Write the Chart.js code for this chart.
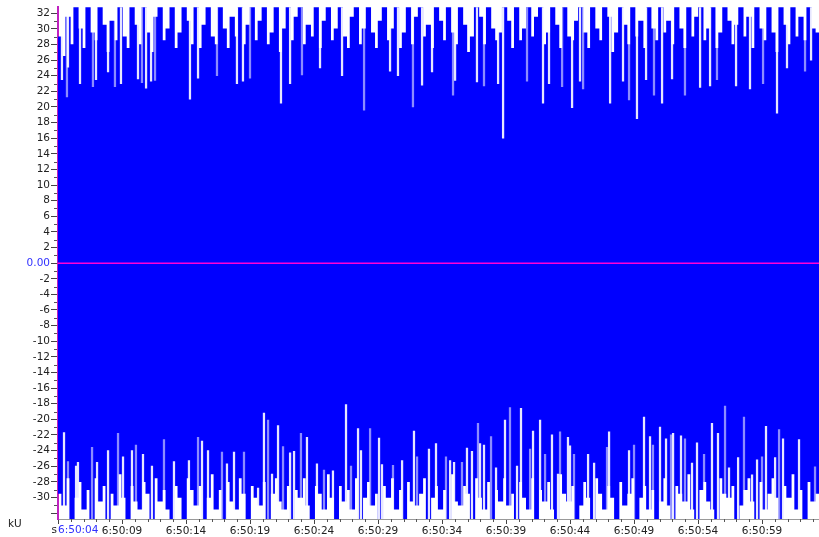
<!DOCTYPE html>
<html>
<head>
<meta charset="utf-8">
<script src="https://cdn.jsdelivr.net/npm/chart.js@4"></script>
<style>
  html, body { margin: 0; padding: 0; background: #fff; overflow: hidden; }
  #wrap { width: 819px; height: 537px; }
</style>
</head>
<body>
<div id="wrap"><canvas id="wave"></canvas></div>
<script>
// time axis in seconds after 6:50:00
const startSecond = 4;
const endSecond = 63.45;
const fullScale = 32.768; // kU

const xTickLabels = ['6:50:04','6:50:09','6:50:14','6:50:19','6:50:24','6:50:29',
  '6:50:34','6:50:39','6:50:44','6:50:49','6:50:54','6:50:59'];
const yTickValues = [32,30,28,26,24,22,20,18,16,14,12,10,8,6,4,2,0,
  -2,-4,-6,-8,-10,-12,-14,-16,-18,-20,-22,-24,-26,-28,-30,-32];

// upper / lower envelope per column
const topBody = [
  29.0,26.5,31.5,28.0,32.8,30.0,27.5,32.8,29.5,28.5,
  32.8,30.5,27.0,31.0,28.5,32.8,29.0,27.5,32.8,30.5,
  28.0,32.8,29.5,27.0,31.5,32.8,28.5,30.0,32.8,27.5,
  29.5,32.8,31.0,28.0,32.8,27.5,30.5,32.8,29.0,28.0,
  32.8,30.0,27.5,31.5,29.0,32.8,28.0,30.5,32.8,28.5,
  31.0,32.8,28.0,29.5,32.8,27.0,30.0,32.8,28.5,31.5,
  32.8,28.0,30.5,29.0,32.8,27.5,31.0,32.8,28.5,30.0,
  32.8,29.0,27.5,31.5,32.8,28.0,30.0,32.8,29.5,27.5,
  31.0,32.8,28.5,30.0,32.8,27.5,29.5,32.8,28.0,31.5,
  32.8,29.0,30.5,27.5,32.8,31.0,28.5,32.8,29.5,28.0,
  32.8,30.5,27.0,29.0,32.8,31.5,28.0,32.8,30.0,28.5,
  29.5,32.8,31.0,27.5,32.8,28.5,30.0,32.8,29.0,31.5,
  32.8,28.0,29.5,32.8,30.5,27.5,32.8,29.0,28.5,31.0,
  32.8,29.5,27.5,32.8,30.0,28.5,32.8,31.5,27.0,29.5,
  32.8,30.5,28.0,32.8,29.0,31.0,27.5,32.8,30.0,28.5,
  32.8,29.5,31.0,28.0,32.8,30.0,27.5,32.8,29.0,31.5,
  32.8,28.5,30.0,32.8,27.5,29.5,32.8,31.0,28.0,30.5,
  32.8,29.0,31.5,27.5,32.8,30.0,28.5,32.8,29.5,27.0,
  32.8,30.5,28.0,32.8,29.0,31.5,28.5,32.8,30.0,29.5
];
const bottomBody = [
  -29.5,-31.0,-27.5,-32.8,-30.0,-28.0,-31.5,-29.0,-32.8,-27.5,
  -30.5,-28.5,-32.8,-29.5,-31.0,-27.0,-30.0,-32.8,-28.5,-30.5,
  -31.5,-28.0,-29.5,-32.8,-27.5,-30.5,-29.0,-31.5,-32.8,-28.5,
  -30.0,-32.8,-27.5,-29.0,-31.0,-28.5,-32.8,-30.0,-27.0,-31.5,
  -29.0,-32.8,-28.0,-30.5,-31.5,-27.5,-29.5,-32.8,-28.5,-30.0,
  -31.0,-28.0,-32.8,-29.5,-27.5,-30.5,-31.5,-28.5,-32.8,-29.0,
  -30.0,-27.5,-31.0,-32.8,-28.5,-29.5,-31.5,-27.0,-30.0,-32.8,
  -28.5,-30.5,-29.0,-31.5,-27.5,-32.8,-30.0,-28.0,-31.0,-29.5,
  -32.8,-28.5,-30.0,-27.5,-31.5,-29.0,-32.8,-28.0,-30.5,-31.0,
  -29.5,-27.5,-32.8,-30.0,-28.5,-31.5,-29.0,-32.8,-27.0,-30.5,
  -31.0,-28.5,-29.5,-32.8,-27.5,-30.0,-31.5,-28.0,-32.8,-29.0,
  -30.5,-27.5,-31.0,-29.5,-32.8,-28.0,-30.0,-31.5,-27.5,-32.8,
  -29.0,-30.5,-28.0,-31.5,-32.8,-27.0,-29.5,-30.5,-28.5,-32.8,
  -31.0,-28.0,-30.0,-32.8,-27.5,-29.5,-31.5,-28.5,-30.0,-32.8,
  -28.0,-31.0,-29.5,-27.5,-32.8,-30.0,-28.5,-31.5,-29.0,-32.8,
  -30.5,-27.5,-31.0,-32.8,-28.5,-29.5,-30.5,-27.0,-31.5,-32.8,
  -29.0,-28.0,-30.5,-31.5,-32.8,-27.5,-29.5,-30.0,-28.5,-32.8,
  -31.0,-29.0,-27.5,-30.5,-32.8,-28.0,-31.5,-29.5,-27.5,-30.0,
  -32.8,-28.5,-30.0,-27.0,-31.5,-29.0,-32.8,-28.0,-30.5,-29.5
];

// narrow peaks that dip away from full scale
const topDipTimes = [4.31,4.70,4.78,5.72,6.73,6.97,7.91,8.45,8.92,10.25,10.56,10.88,11.27,11.58,
  14.31,14.94,16.42,17.98,18.45,19.00,21.42,22.13,23.06,24.47,26.19,27.91,29.94,30.56,31.73,
  32.44,33.22,34.86,35.02,36.73,37.28,38.38,38.77,40.64,41.89,42.36,43.38,44.16,44.78,45.02,
  47.13,48.14,48.61,49.23,49.94,50.56,51.19,51.97,52.98,54.16,54.94,55.48,56.97,58.06,59.08,
  60.17,60.95,62.36,62.83];
const topDipValues = [23.5,21.3,25.1,23.0,22.6,23.5,24.5,22.6,23.0,23.6,23.1,22.4,23.3,23.4,
  21.0,23.7,24.0,23.0,23.3,23.7,20.5,23.0,24.1,25.0,24.0,19.6,24.6,24.0,20.0,
  22.8,24.5,21.5,23.4,23.2,22.7,23.0,16.0,23.3,20.5,23.0,22.6,19.9,23.3,22.3,
  20.5,23.3,20.9,18.5,23.5,21.5,20.5,23.6,21.5,22.5,22.7,23.5,22.7,22.3,23.0,
  19.2,25.0,24.6,26.0];
const bottomDipTimes = [4.47,4.78,5.41,5.56,6.66,7.05,7.91,8.69,9.08,9.78,10.09,10.64,11.34,12.28,
  13.06,14.23,14.94,15.25,15.72,16.81,17.20,17.75,18.53,19.63,20.09,20.41,20.72,21.19,21.58,
  22.13,22.44,22.98,23.45,24.23,24.78,25.48,26.50,26.89,27.44,27.67,28.38,29.08,29.31,30.17,
  30.88,31.81,32.05,32.98,33.53,34.31,34.63,34.94,35.56,35.95,36.34,36.81,36.97,37.28,37.83,
  38.22,38.92,39.31,39.86,40.17,40.88,41.11,41.66,42.05,42.59,43.06,43.22,43.84,44.00,44.31,
  45.41,45.88,46.89,47.05,48.61,49.00,49.78,50.25,50.48,51.03,51.50,51.89,52.05,52.67,52.98,
  53.53,53.92,54.47,55.09,55.56,56.11,56.42,57.13,57.59,58.22,58.61,59.00,59.31,60.02,60.33,
  60.64,61.89,63.14];
const bottomDipValues = [-21.7,-25.4,-26.0,-25.5,-23.6,-25.5,-24.0,-21.8,-24.8,-24.0,-23.3,-24.5,-26.0,-22.6,
  -25.4,-25.3,-22.3,-22.8,-24.0,-24.2,-25.7,-24.2,-24.2,-28.8,-19.2,-20.1,-27.0,-20.8,-23.5,
  -24.3,-24.1,-21.8,-22.3,-25.7,-26.5,-26.6,-18.1,-26.0,-21.2,-24.0,-21.2,-22.4,-25.8,-25.9,
  -25.3,-21.5,-24.8,-23.8,-23.1,-24.8,-25.3,-25.5,-25.5,-23.7,-24.1,-20.5,-23.1,-23.3,-22.2,
  -26.2,-20.1,-18.5,-26.0,-18.6,-23.8,-21.5,-20.1,-24.5,-22.0,-27.0,-21.6,-22.3,-23.4,-24.5,
  -24.5,-25.6,-23.6,-21.6,-24.0,-23.3,-19.7,-22.2,-23.3,-21.0,-22.5,-22.0,-21.8,-22.1,-22.5,
  -25.6,-23.0,-24.5,-20.5,-21.8,-18.3,-26.2,-24.9,-19.7,-27.1,-25.2,-24.8,-20.9,-24.9,-21.3,
  -22.5,-22.6,-26.1];

const columnWidth = (endSecond - startSecond) / topBody.length;
const columnTimes = topBody.map((_, i) => startSecond + columnWidth * (i + 0.5));

const labelFont = { family: 'DejaVu Sans', size: 10.5 };

const decorations = {
  id: 'decorations',
  afterDatasetsDraw(chart) {
    const { ctx, chartArea: a, scales: { y } } = chart;
    const y0 = Math.round(y.getPixelForValue(0));
    ctx.save();
    ctx.fillStyle = '#ff00d8';
    ctx.fillRect(a.left, y0 - 0.5, a.right - a.left, 1.5);
    ctx.restore();
  },
  afterDraw(chart) {
    const { ctx, chartArea: a, scales: { x, y } } = chart;
    ctx.save();
    // minor ticks
    ctx.strokeStyle = '#555';
    ctx.lineWidth = 1;
    ctx.beginPath();
    for (let v = -31; v <= 31; v += 2) {
      const py = Math.round(y.getPixelForValue(v)) + 0.5;
      ctx.moveTo(a.left - 4, py);
      ctx.lineTo(a.left - 1, py);
    }
    for (let s = startSecond; s < endSecond; s++) {
      if ((s - startSecond) % 5 === 0) continue;
      const px = Math.round(x.getPixelForValue(s)) + 0.5;
      ctx.moveTo(px, a.bottom);
      ctx.lineTo(px, a.bottom + 3);
    }
    ctx.stroke();
    // unit labels and start time
    ctx.font = '10.5px "DejaVu Sans"';
    ctx.textBaseline = 'middle';
    ctx.fillStyle = '#222';
    ctx.textAlign = 'right';
    ctx.fillText('s', a.left - 1, a.bottom + 11);
    ctx.fillStyle = '#3030ff';
    ctx.textAlign = 'left';
    ctx.fillText(xTickLabels[0], a.left, a.bottom + 11);
    ctx.fillStyle = '#222';
    ctx.fillText('kU', 8, a.bottom + 5);
    ctx.restore();
  }
};

new Chart(document.getElementById('wave'), {
  type: 'bar',
  data: {
    datasets: [
      {
        label: 'top dips',
        data: topDipTimes.map((t, i) => ({ x: t, y: [topDipValues[i], fullScale] })),
        backgroundColor: c => c.dataIndex % 3 === 1 ? 'rgba(255,255,255,0.55)' : 'rgba(255,255,255,0.9)',
        barThickness: 1.6,
        grouped: false,
        order: 1
      },
      {
        label: 'bottom dips',
        data: bottomDipTimes.map((t, i) => ({ x: t, y: [-fullScale, bottomDipValues[i]] })),
        backgroundColor: c => c.dataIndex % 3 === 1 ? 'rgba(255,255,255,0.55)' : 'rgba(255,255,255,0.9)',
        barThickness: 1.6,
        grouped: false,
        order: 1
      },
      {
        label: 'waveform',
        data: columnTimes.map((t, i) => ({ x: t, y: [bottomBody[i], topBody[i]] })),
        backgroundColor: '#0000ff',
        barThickness: 4.6,
        grouped: false,
        order: 2
      }
    ]
  },
  options: {
    responsive: true,
    maintainAspectRatio: false,
    animation: false,
    layout: { padding: { top: 7, right: 0, left: 0, bottom: 0 } },
    plugins: {
      legend: { display: false },
      tooltip: { enabled: false }
    },
    scales: {
      x: {
        type: 'linear',
        min: startSecond,
        max: endSecond,
        offset: false,
        afterBuildTicks: s => { s.ticks = xTickLabels.map((_, i) => ({ value: startSecond + 5 * i })); },
        afterFit: s => { s.height = 18; },
        ticks: {
          autoSkip: false,
          maxRotation: 0,
          padding: 1,
          color: '#222',
          font: labelFont,
          callback: (v, i) => i === 0 ? '' : xTickLabels[i]
        },
        grid: { offset: false, drawOnChartArea: false, tickLength: 5, tickColor: '#444' },
        border: { color: '#999', width: 1 }
      },
      y: {
        min: -fullScale,
        max: fullScale,
        afterBuildTicks: s => { s.ticks = yTickValues.map(v => ({ value: v })); },
        afterFit: s => { s.width = 58; },
        ticks: {
          autoSkip: false,
          padding: 1,
          font: labelFont,
          color: c => c.tick.value === 0 ? '#3030ff' : '#222',
          callback: v => v === 0 ? '0.00' : (v === -32 ? '' : String(v))
        },
        grid: { drawOnChartArea: false, tickLength: 7, tickColor: '#444' },
        border: { color: '#c020c0', width: 2 }
      }
    }
  },
  plugins: [decorations]
});
</script>
</body>
</html>
